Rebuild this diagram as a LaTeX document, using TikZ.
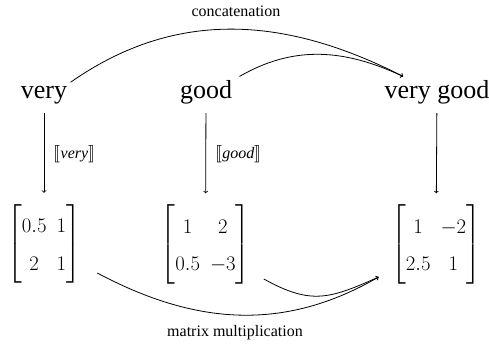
\documentclass[tikz,border=0pt]{standalone}
\usepackage{amsmath}
\usepackage{amssymb}
\usepackage{stmaryrd}
\usepackage{fontspec}
\setmainfont{Liberation Serif}
\usepackage{tikz}
\usetikzlibrary{calc}

\begin{document}
\begin{tikzpicture}[x=1pt, y=-1pt]

        % 1. Fix the drawing area (y grows downwards)
        \useasboundingbox (0,0) rectangle (489,346);

        % 2. Styles for words, matrices, labels and arrows
        \tikzset{word/.style={font=\fontsize{26}{31}\selectfont, anchor=base}}
        \tikzset{vec/.style={font=\fontsize{22}{26}\selectfont}}
        \tikzset{lab/.style={font=\fontsize{16}{19}\selectfont}}
        \tikzset{link/.style={->, line width=0.8pt}}
        \renewcommand{\arraystretch}{1.44}

        % 3. The words on top
        \node[word] (very) at (44,98) {very};
        \node[word] (good) at (206,98) {good};
        \node[word] (vg) at (437,98) {very good};

        % 4. Their matrices below
        \node[vec] (mvery) at (44,244) {$\begin{bmatrix} 0.5 & 1\\ 2 & 1 \end{bmatrix}$};
        \node[vec] (mgood) at (205.5,244.5) {$\begin{bmatrix} 1 & 2\\ 0.5 & -3 \end{bmatrix}$};
        \node[vec] (mvg) at (436,244.5) {$\begin{bmatrix} 1 & -2\\ 2.5 & 1 \end{bmatrix}$};

        % 5. Lookup arrows (word to matrix)
        \draw[link, shorten <=6pt, shorten >=8pt] (very) -- (mvery) node[lab, midway, right, xshift=6pt] (lvery) {$\llbracket \mathit{very} \rrbracket$};
        \draw[link, shorten <=6pt, shorten >=8pt] (good) -- (mgood) node[lab, midway, right, xshift=6pt] (lgood) {$\llbracket \mathit{good} \rrbracket$};
        \draw[link, shorten <=6pt, shorten >=8pt] (vg) -- (mvg);

        % 6. Concatenation arcs
        \coordinate (catend) at ([xshift=22pt]vg.north west);
        \draw[link] (very.north east) to[out=35, in=153] (catend);
        \draw[link] ([xshift=4pt]good.north east) to[out=30, in=155] (catend);
        \node[lab] (cat) at (236,11.5) {concatenation};

        % 7. Matrix multiplication arcs
        \coordinate (mulend) at ($(mvg.west)+(-9,32.5)$);
        \draw[link] ($(mvery.east)+(13,29)$) to[out=-28, in=210] (mulend);
        \draw[link] ($(mgood.east)+(10,34.5)$) to[out=-29, in=204, looseness=1.2] (mulend);
        \node[lab] (mul) at (235,333) {matrix multiplication};

\end{tikzpicture}
\end{document}
